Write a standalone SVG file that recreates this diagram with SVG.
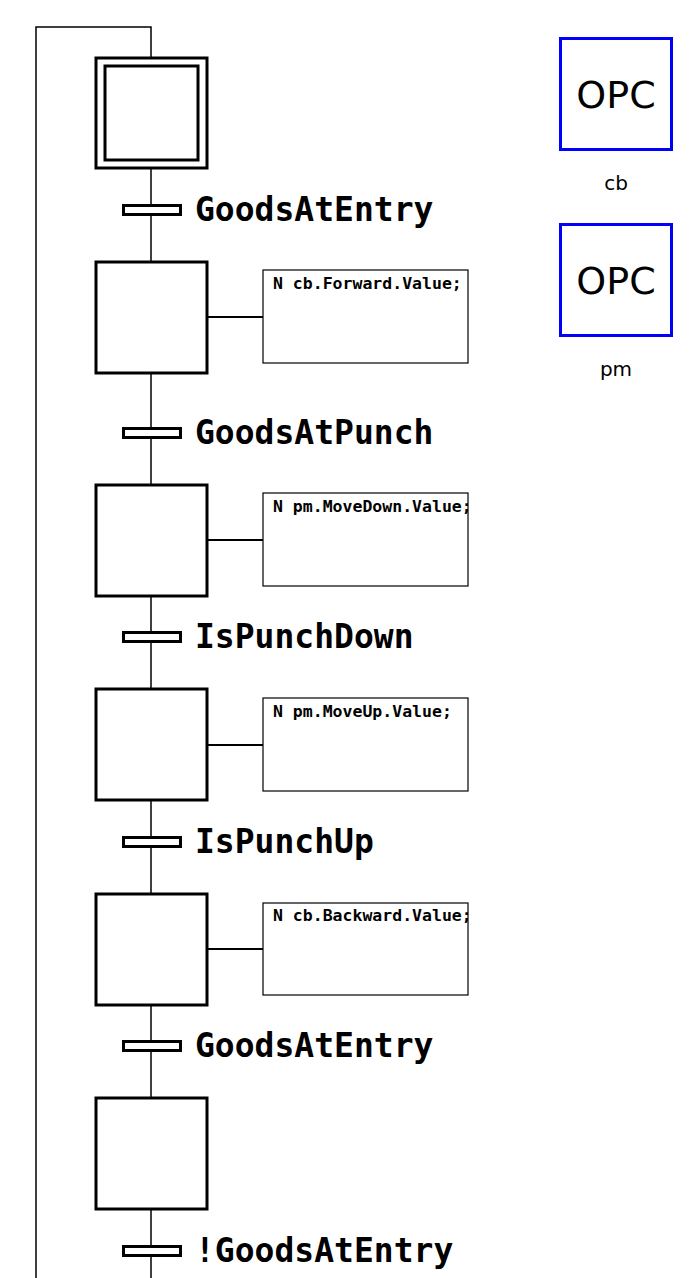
<svg xmlns="http://www.w3.org/2000/svg" width="696" height="1278" viewBox="0 0 696 1278">
<defs>
<style>
.step{fill:#fff;stroke:#000;stroke-width:3}
.bar{fill:#fff;stroke:#000;stroke-width:3}
.act{fill:#fff;stroke:#000;stroke-width:1.2}
.wire{fill:none;stroke:#000;stroke-width:1.5}
.link{fill:none;stroke:#000;stroke-width:2}
.tl{font-family:"DejaVu Sans Mono","Liberation Mono",monospace;font-weight:bold;font-size:33px;fill:#000}
.at{font-family:"DejaVu Sans Mono","Liberation Mono",monospace;font-weight:bold;font-size:16.5px;fill:#000}
.opc{fill:#fff;stroke:#0000ff;stroke-width:3}
.ot{font-family:"DejaVu Sans","Noto Sans",sans-serif;font-size:38px;fill:#000;text-anchor:middle}
.on{font-family:"DejaVu Sans","Noto Sans",sans-serif;font-size:20px;fill:#000;text-anchor:middle}
</style>
<clipPath id="c1"><rect x="263" y="270" width="205" height="93"/></clipPath>
<clipPath id="c2"><rect x="263" y="493" width="205" height="93"/></clipPath>
<clipPath id="c3"><rect x="263" y="698" width="205" height="93"/></clipPath>
<clipPath id="c4"><rect x="263" y="903" width="205" height="92"/></clipPath>
</defs>
<rect width="696" height="1278" fill="#fff"/>
<g id="connectors">
<polyline class="wire" points="36,1278 36,27 151,27 151,57"/>
<line class="wire" x1="151" y1="169" x2="151" y2="261"/>
<line class="wire" x1="151" y1="373" x2="151" y2="484"/>
<line class="wire" x1="151" y1="596" x2="151" y2="689"/>
<line class="wire" x1="151" y1="800" x2="151" y2="893"/>
<line class="wire" x1="151" y1="1005" x2="151" y2="1098"/>
<line class="wire" x1="151" y1="1209" x2="151" y2="1278"/>
<line class="link" x1="207" y1="317" x2="263" y2="317"/>
<line class="link" x1="207" y1="540" x2="263" y2="540"/>
<line class="link" x1="207" y1="745" x2="263" y2="745"/>
<line class="link" x1="207" y1="949" x2="263" y2="949"/>
</g>
<g id="step0">
<rect class="step" x="96" y="58" width="111" height="110"/>
<rect class="step" x="105" y="66" width="93" height="94"/>
</g>
<g id="t1"><rect class="bar" x="123.5" y="205.5" width="57" height="9"/><text class="tl" x="195" y="221">GoodsAtEntry</text></g>
<g id="step1"><rect class="step" x="96" y="262" width="111" height="111"/></g>
<g id="a1"><rect class="act" x="263" y="270" width="205" height="93"/><text class="at" x="273" y="289" clip-path="url(#c1)">N cb.Forward.Value;</text></g>
<g id="t2"><rect class="bar" x="123.5" y="428.5" width="57" height="9"/><text class="tl" x="195" y="444">GoodsAtPunch</text></g>
<g id="step2"><rect class="step" x="96" y="485" width="111" height="111"/></g>
<g id="a2"><rect class="act" x="263" y="493" width="205" height="93"/><text class="at" x="273" y="512" clip-path="url(#c2)">N pm.MoveDown.Value;</text></g>
<g id="t3"><rect class="bar" x="123.5" y="632.5" width="57" height="9"/><text class="tl" x="195" y="648">IsPunchDown</text></g>
<g id="step3"><rect class="step" x="96" y="689" width="111" height="111"/></g>
<g id="a3"><rect class="act" x="263" y="698" width="205" height="93"/><text class="at" x="273" y="717" clip-path="url(#c3)">N pm.MoveUp.Value;</text></g>
<g id="t4"><rect class="bar" x="123.5" y="837.5" width="57" height="9"/><text class="tl" x="195" y="853">IsPunchUp</text></g>
<g id="step4"><rect class="step" x="96" y="894" width="111" height="111"/></g>
<g id="a4"><rect class="act" x="263" y="903" width="205" height="92"/><text class="at" x="273" y="921" clip-path="url(#c4)">N cb.Backward.Value;</text></g>
<g id="t5"><rect class="bar" x="123.5" y="1041.5" width="57" height="9"/><text class="tl" x="195" y="1057">GoodsAtEntry</text></g>
<g id="step5"><rect class="step" x="96" y="1098" width="111" height="111"/></g>
<g id="t6"><rect class="bar" x="123.5" y="1246.5" width="57" height="9"/><text class="tl" x="195" y="1262">!GoodsAtEntry</text></g>
<g id="opc_cb"><rect class="opc" x="560.5" y="38.5" width="111" height="111"/><text class="ot" x="616" y="108">OPC</text><text class="on" x="616" y="190">cb</text></g>
<g id="opc_pm"><rect class="opc" x="560.5" y="224.5" width="111" height="111"/><text class="ot" x="616" y="294">OPC</text><text class="on" x="616" y="376">pm</text></g>
</svg>
